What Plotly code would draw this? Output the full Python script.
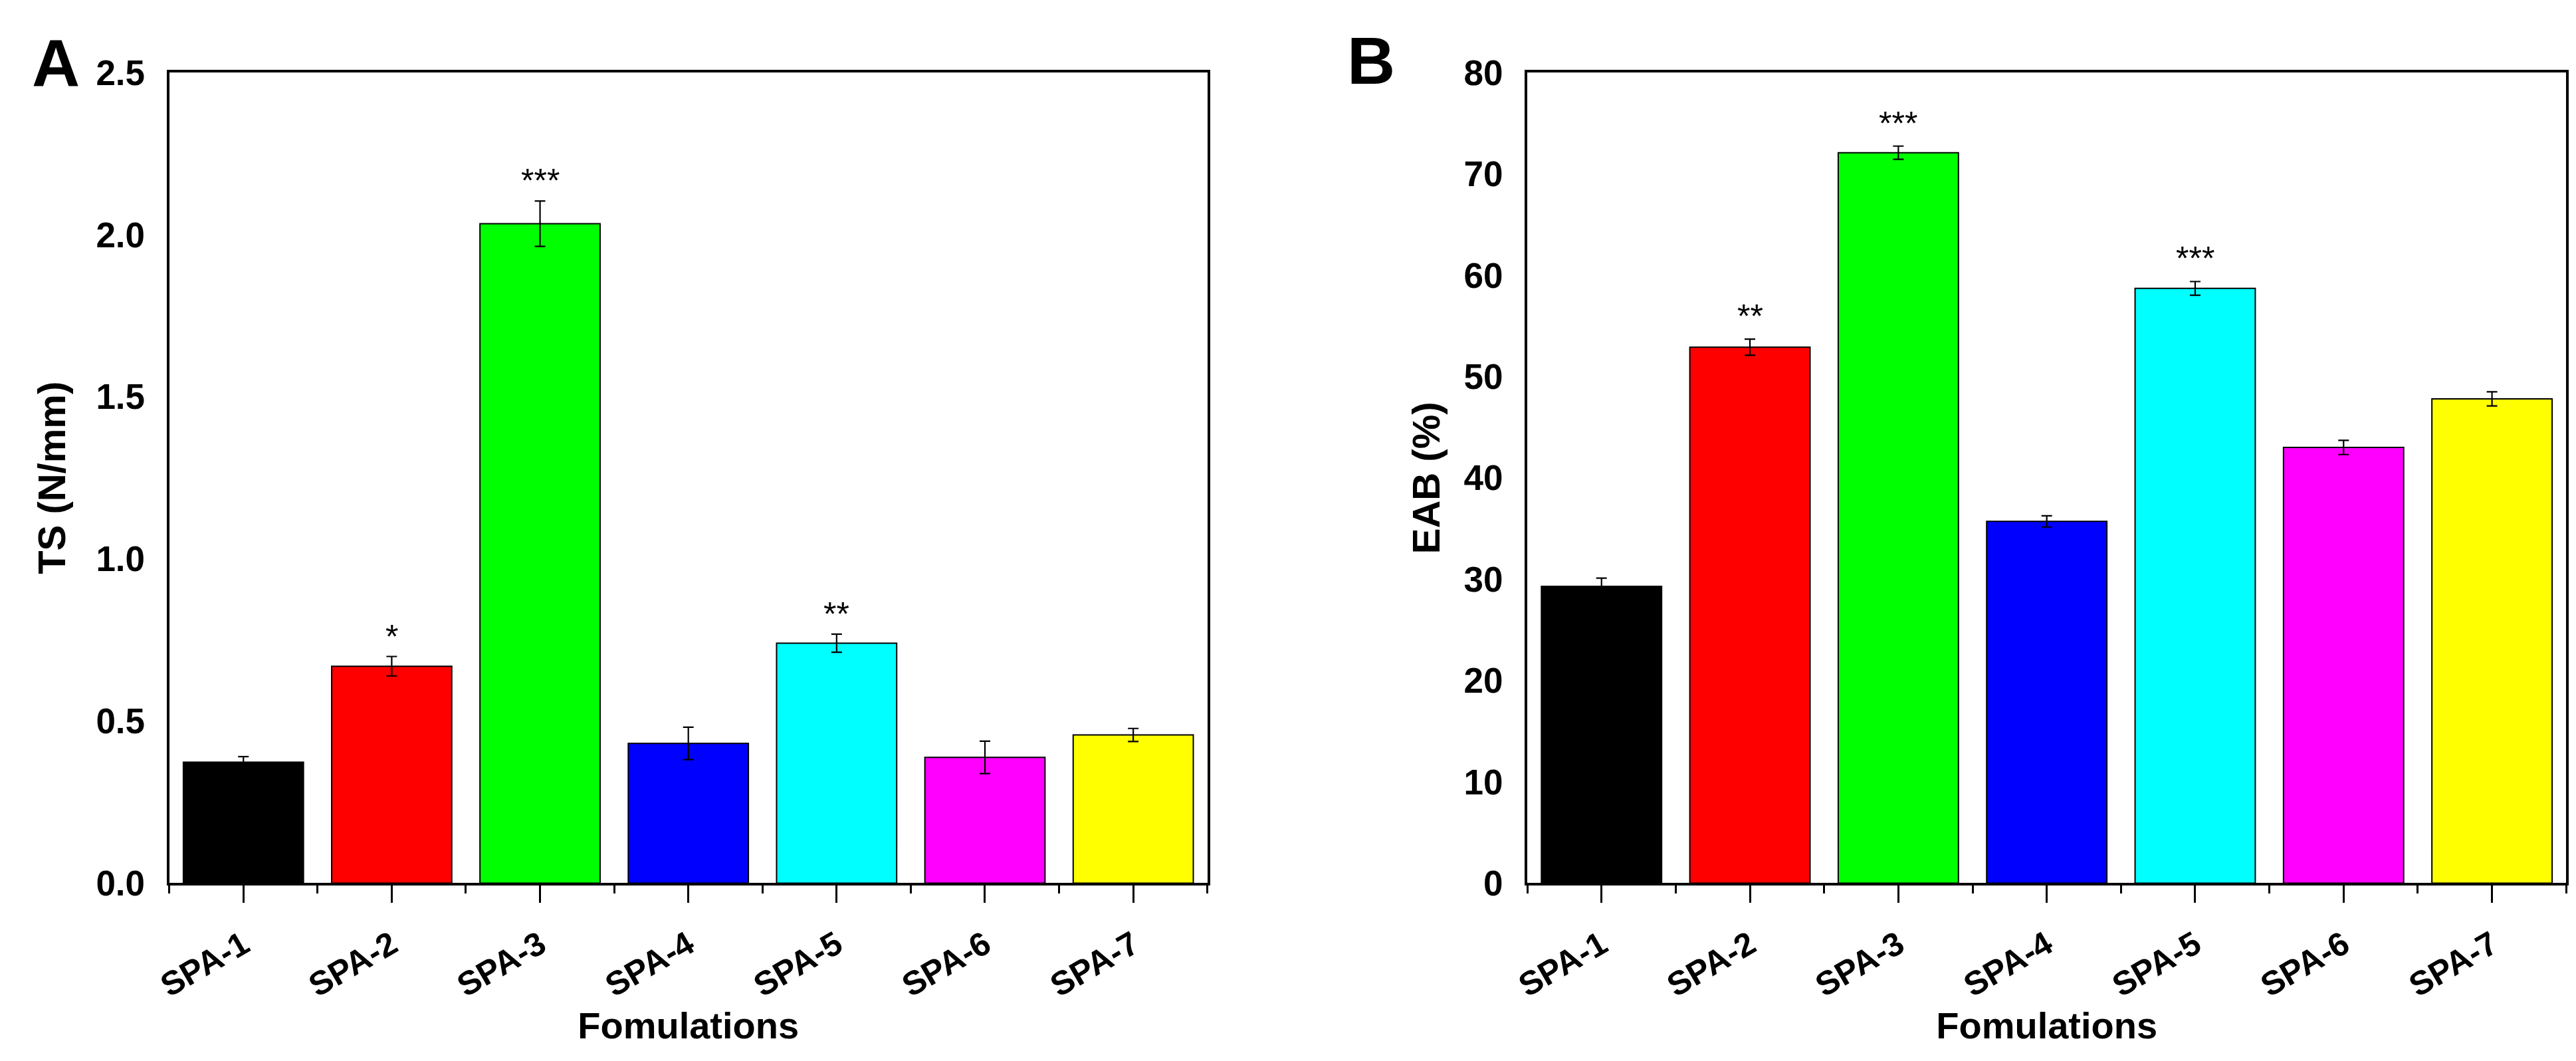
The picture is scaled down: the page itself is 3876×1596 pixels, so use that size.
import plotly.graph_objects as go

# Data
formulations = ["SPA-1", "SPA-2", "SPA-3", "SPA-4", "SPA-5", "SPA-6", "SPA-7"]
bar_colors = ["#000000", "#FF0000", "#00FF00", "#0000FF", "#00FFFF", "#FF00FF", "#FFFF00"]

ts_values = [0.373, 0.669, 2.034, 0.431, 0.740, 0.388, 0.457]
ts_errors = [0.017, 0.030, 0.070, 0.050, 0.028, 0.050, 0.020]
ts_stars = ["", "*", "***", "", "**", "", ""]

eab_values = [29.3, 52.9, 72.1, 35.7, 58.7, 43.0, 47.8]
eab_errors = [0.8, 0.8, 0.65, 0.55, 0.68, 0.7, 0.7]
eab_stars = ["", "**", "***", "", "***", "", ""]

FONT = "Liberation Sans"
x_pos = list(range(1, len(formulations) + 1))

fig = go.Figure()

for values, errors, xa, ya in [(ts_values, ts_errors, "x", "y"), (eab_values, eab_errors, "x2", "y2")]:
    fig.add_trace(go.Bar(
        x=x_pos, y=values, width=0.81,
        marker=dict(color=bar_colors, line=dict(color="black", width=2)),
        error_y=dict(type="data", array=errors, visible=True, color="black", thickness=2.2, width=8),
        xaxis=xa, yaxis=ya, showlegend=False,
    ))

# significance stars
for values, errors, stars, xref, yref, shift in [
    (ts_values, ts_errors, ts_stars, "x", "y", 30),
    (eab_values, eab_errors, eab_stars, "x2", "y2", 34),
]:
    for xi, v, e, s in zip(x_pos, values, errors, stars):
        if s:
            fig.add_annotation(x=xi, y=v + e, xref=xref, yref=yref, text=s, showarrow=False,
                               yanchor="middle", yshift=shift,
                               font=dict(family=FONT, size=50, color="black"))

xaxis_common = dict(
    range=[0.5, 7.5], tickmode="array", tickvals=x_pos, ticktext=formulations,
    tickangle=-30, ticks="outside", ticklen=26, tickwidth=3, tickcolor="black",
    minor=dict(tick0=0.5, dtick=1, ticks="outside", ticklen=12, tickwidth=3, tickcolor="black"),
    showline=True, linecolor="black", linewidth=4, mirror=True,
    showgrid=False, zeroline=False, ticklabelstandoff=14,
    tickfont=dict(family=FONT, size=50, color="black", weight="bold"),
    title=dict(text="Fomulations", standoff=14, font=dict(family=FONT, size=56, color="black", weight="bold")),
)
yaxis_common = dict(
    ticks="", showline=True, linecolor="black", linewidth=4, mirror=True,
    showgrid=False, zeroline=False, ticklabelstandoff=22,
    tickfont=dict(family=FONT, size=53, color="black", weight="bold"),
)

fig.update_layout(
    width=3876, height=1596, autosize=False,
    margin=dict(l=0, r=0, t=0, b=0),
    paper_bgcolor="white", plot_bgcolor="white",
    bargap=0.19,
    xaxis=dict(domain=[0.0583, 0.4636], anchor="y", **xaxis_common),
    xaxis2=dict(domain=[0.5885, 0.9941], anchor="y2", **xaxis_common),
    yaxis=dict(domain=[0.1598, 0.953], anchor="x", range=[0, 2.5], dtick=0.5, tickformat=".1f",
               title=dict(text="TS (N/mm)", standoff=28, font=dict(family=FONT, size=58, color="black", weight="bold")),
               **yaxis_common),
    yaxis2=dict(domain=[0.1598, 0.953], anchor="x2", range=[0, 80], dtick=10,
                title=dict(text="EAB (%)", standoff=18, font=dict(family=FONT, size=58, color="black", weight="bold")),
                **yaxis_common),
)

# panel letters
fig.add_annotation(x=54 / 3876, y=1 - 60 / 1596, xref="paper", yref="paper", text="A", showarrow=False,
                   xanchor="center", yanchor="middle", font=dict(family=FONT, size=100, color="black", weight="bold"))
fig.add_annotation(x=2045 / 3876, y=1 - 56 / 1596, xref="paper", yref="paper", text="B", showarrow=False,
                   xanchor="center", yanchor="middle", font=dict(family=FONT, size=100, color="black", weight="bold"))

fig.write_html("out.html")
